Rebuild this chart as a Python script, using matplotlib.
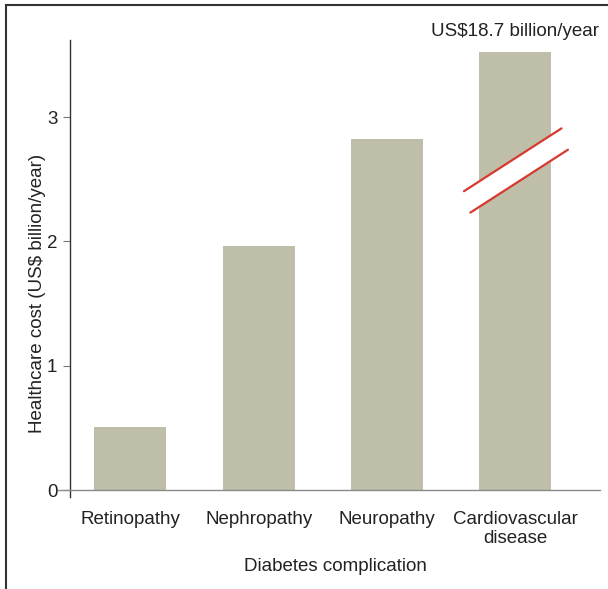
import matplotlib
matplotlib.use("Agg")
import matplotlib.pyplot as plt
from matplotlib.lines import Line2D
from matplotlib.patches import Polygon

plt.rcParams['font.family'] = ['Liberation Sans', 'DejaVu Sans']

categories = ["Retinopathy", "Nephropathy", "Neuropathy", "Cardiovascular\ndisease"]
values = [0.51, 1.96, 2.82, 3.52]  # last bar truncated (actual 18.7)
yticks = [0, 1, 2, 3]
annotation = "US$18.7 billion/year"

bar_color = "#bfbea8"
text_color = "#222222"
fs = 13.5

fig = plt.figure(figsize=(6.08, 5.89), dpi=100)
ax = fig.add_axes([70 / 608, 1 - 497 / 589, 530 / 608, 457 / 589])

x = list(range(len(categories)))
ax.bar(x, values, width=0.56, color=bar_color, zorder=2)

ax.set_xlim(-0.47, 3.66)
ax.set_ylim(-0.055, 3.62)

for s in ["top", "right", "bottom"]:
    ax.spines[s].set_visible(False)
ax.spines["left"].set_color("#333333")
ax.spines["left"].set_linewidth(1.0)

# x baseline
ax.plot([-0.56, 3.66], [0, 0], color="#8a8a8a", lw=1.0, clip_on=False, zorder=3)

ax.set_yticks(yticks)
ax.set_yticklabels([str(t) for t in yticks], fontsize=fs, color=text_color)
ax.tick_params(axis="y", length=5, width=0.8, color="#777777", pad=4)
ax.set_xticks(x)
ax.set_xticklabels(categories, fontsize=fs, color=text_color, linespacing=1.15)
ax.tick_params(axis="x", length=0, pad=10)

ax.set_xlabel("Diabetes complication", fontsize=fs, color=text_color, labelpad=8)
ax.set_ylabel("Healthcare cost (US$ billion/year)", fontsize=fs, color=text_color)
ax.yaxis.set_label_coords(-0.045, 0.446)

# annotation above truncated bar
ax.text(x[-1], values[-1] + 0.1, annotation, ha="center", va="bottom",
        fontsize=fs, color=text_color, clip_on=False)

# axis break on last bar
cx = x[-1]
xl, xr = cx - 0.40, cx + 0.36
slope = 0.665
yc_top, yc_bot = 2.67, 2.465
def yline(xx, yc):
    return yc + slope * (xx - cx)
poly = Polygon([[xl, yline(xl, yc_top)], [xr, yline(xr, yc_top)],
                [xr + 0.05, yline(xr + 0.05, yc_bot)], [xl + 0.05, yline(xl + 0.05, yc_bot)]],
               closed=True, facecolor="white", edgecolor="none", zorder=4)
ax.add_patch(poly)
ax.plot([xl, xr], [yline(xl, yc_top), yline(xr, yc_top)], color="#d63a2f", lw=1.6, zorder=5, solid_capstyle="round")
ax.plot([xl + 0.05, xr + 0.05], [yline(xl + 0.05, yc_bot), yline(xr + 0.05, yc_bot)], color="#d63a2f", lw=1.6, zorder=5, solid_capstyle="round")

# figure frame (top and left)
fig.add_artist(Line2D([6 / 608, 1], [1 - 5 / 589, 1 - 5 / 589], color="#333333", lw=1.5, transform=fig.transFigure))
fig.add_artist(Line2D([6 / 608, 6 / 608], [0, 1 - 5 / 589], color="#333333", lw=1.5, transform=fig.transFigure))

fig.savefig("out.png", dpi=100)
